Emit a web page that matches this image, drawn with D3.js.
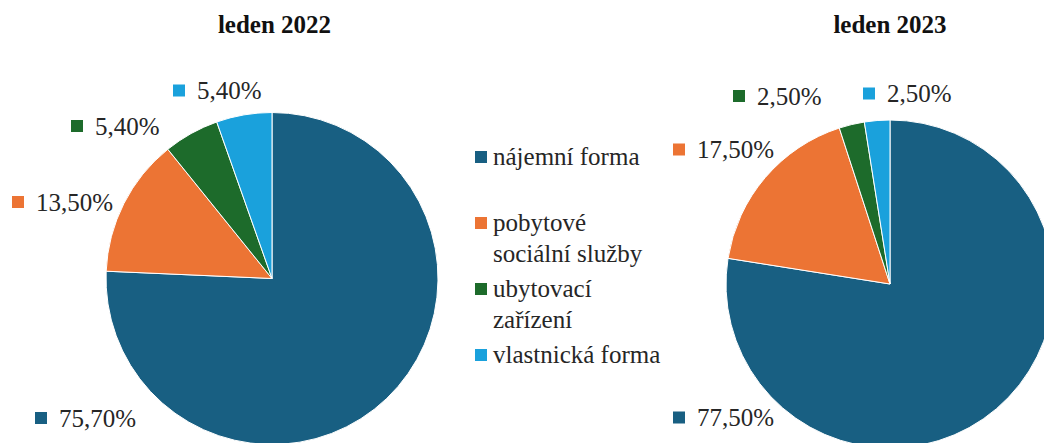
<!DOCTYPE html>
<html>
<head>
<meta charset="utf-8">
<script src="https://cdn.jsdelivr.net/npm/d3@7"></script>
<style>
  html, body { margin: 0; padding: 0; background: #fff; }
  svg { display: block; }
  svg text { font-family: "Liberation Serif", "Times New Roman", serif; }
</style>
</head>
<body>
<div id="chart"></div>
<script>
// data
var categories = ["nájemní forma", "pobytové sociální služby", "ubytovací zařízení", "vlastnická forma"];
var values2022 = [75.7, 13.5, 5.4, 5.4];
var values2023 = [77.5, 17.5, 2.5, 2.5];
var titles = ["leden 2022", "leden 2023"];

var width = 1044, height = 443;
var colors = ["#185f82", "#ec7434", "#1d6b2b", "#1aa1dc"];
var color = d3.scaleOrdinal(categories, colors);
var fmt = v => d3.format(".2f")(v).replace(".", ",") + "%";
var font = "Liberation Serif";

// label block offsets from the pie centre (marker left edge, vertical middle)
var pies = [
  { values: values2022, title: titles[0], cx: 272, cy: 278.5, r: 166, titleX: 274.5,
    spots: [[-237, 139.5], [-260, -76.5], [-201, -152.5], [-99, -188]] },
  { values: values2023, title: titles[1], cx: 890, cy: 284, r: 164, titleX: 890,
    spots: [[-217, 133.5], [-217, -134.5], [-157, -188], [-27, -190.5]] }
];

var svg = d3.select("#chart").append("svg")
  .attr("width", width)
  .attr("height", height)
  .attr("viewBox", [0, 0, width, height])
  .attr("font-family", font);

var pie = d3.pie().sort(null).value(d => d.value);
var mk = 12, gap = 12, fs = 25;

pies.forEach(function(p) {
  var rows = categories.map((c, i) => ({ name: c, value: p.values[i] }));
  var arcs = pie(rows);
  var arc = d3.arc().innerRadius(0).outerRadius(p.r);

  svg.append("text")
    .attr("x", p.titleX)
    .attr("y", 33)
    .attr("text-anchor", "middle")
    .attr("font-size", fs)
    .attr("font-weight", "bold")
    .attr("fill", "#111")
    .text(p.title);

  svg.append("g")
    .attr("transform", `translate(${p.cx},${p.cy})`)
    .selectAll("path")
    .data(arcs)
    .join("path")
    .attr("d", arc)
    .attr("fill", d => color(d.data.name))
    .attr("stroke", "#fff")
    .attr("stroke-width", 1);

  // data labels
  arcs.forEach(function(d, i) {
    var x = p.cx + p.spots[i][0], y = p.cy + p.spots[i][1];
    svg.append("rect")
      .attr("x", x)
      .attr("y", y - mk / 2)
      .attr("width", mk)
      .attr("height", mk)
      .attr("fill", color(d.data.name));
    svg.append("text")
      .attr("x", x + mk + gap)
      .attr("y", y + 8.5)
      .attr("font-size", fs)
      .attr("fill", "#262626")
      .text(fmt(d.data.value));
  });
});

// legend: wrap by a rough width estimate
function wrap(text, maxChars) {
  var words = text.split(" "), lines = [], cur = "";
  words.forEach(function(w) {
    var t = cur ? cur + " " + w : w;
    if (cur && t.length > maxChars) { lines.push(cur); cur = w; } else cur = t;
  });
  lines.push(cur);
  return lines;
}

var legendY = d3.scaleLinear().domain([0, 1]).range([165, 231]);

categories.forEach(function(c, i) {
  var y0 = legendY(i);
  svg.append("rect")
    .attr("x", 475)
    .attr("y", y0 - 14)
    .attr("width", mk)
    .attr("height", mk)
    .attr("fill", color(c));
  wrap(c, 16).forEach(function(line, j) {
    svg.append("text")
      .attr("x", 493)
      .attr("y", y0 + j * 31)
      .attr("font-size", fs)
      .attr("fill", "#262626")
      .text(line);
  });
});

// once the regular face is really loaded, re-lay the texts so they pick it up
if (document.fonts && document.fonts.load) {
  Promise.all([
    document.fonts.load("25px 'Liberation Serif'"),
    document.fonts.load("bold 25px 'Liberation Serif'")
  ]).then(function() {
    svg.selectAll("text").each(function() {
      var t = this.textContent;
      this.textContent = "";
      this.textContent = t;
    });
  });
}
</script>
</body>
</html>
